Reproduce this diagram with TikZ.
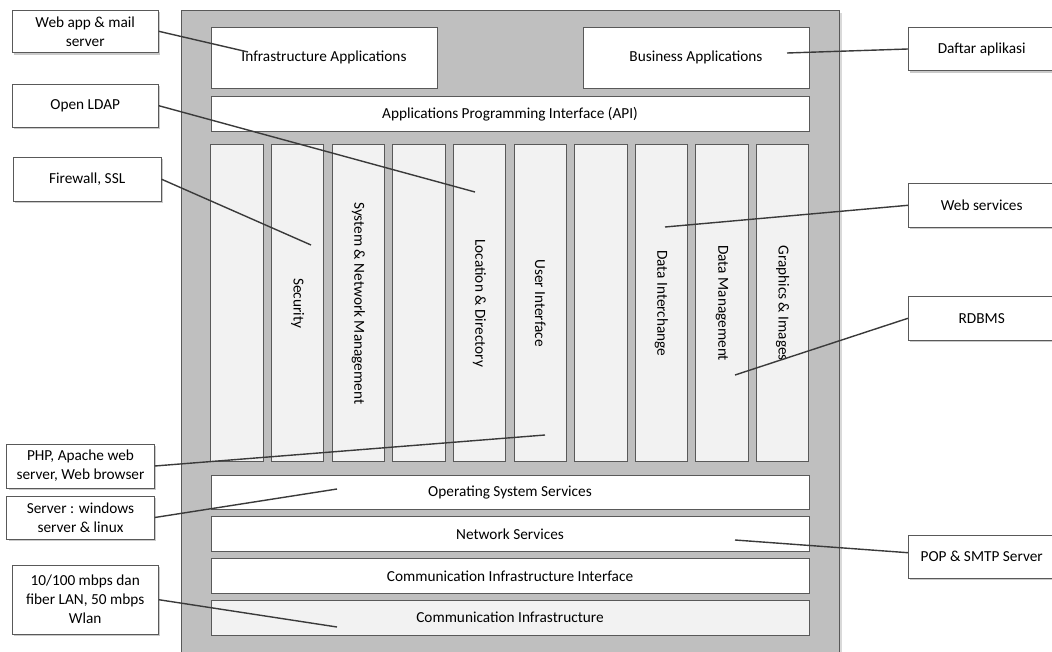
\documentclass[tikz,border=0pt]{standalone}
\usepackage{fontspec}
\setmainfont{Carlito}
\usetikzlibrary{shadows}
\definecolor{outergray}{HTML}{BFBFBF}
\definecolor{colfill}{HTML}{F2F2F2}
\definecolor{edgec}{HTML}{595959}
\definecolor{linkc}{HTML}{3A3A3A}
\tikzset{
  base/.style={draw=edgec, line width=0.9pt, inner sep=1pt, align=center,
    font=\fontsize{15.3}{19}\selectfont, text=black},
  layerbox/.style={base, fill=white},
  lightlayer/.style={base, fill=colfill},
  colbox/.style={base, fill=colfill, rotate=-90, minimum width=317pt, minimum height=52.3pt},
  note/.style={base, fill=white, drop shadow={shadow xshift=2pt, shadow yshift=-2pt, fill=black!35, opacity=0.6}},
  link/.style={draw=linkc, line width=1.4pt},
}
\begin{document}
\begin{tikzpicture}[x=1pt,y=-1pt]
\useasboundingbox (0,0) rectangle (1052,651);
% outer frame
\node[draw=edgec, fill=outergray, line width=1pt, minimum width=658pt, minimum height=680pt,
      inner sep=0pt, anchor=north west,
      drop shadow={shadow xshift=2pt, shadow yshift=-2pt, fill=black!25, opacity=0.6}] (frame) at (181,10) {};
% top layers
\node[layerbox, minimum width=226pt, minimum height=61pt] (infra) at (324,57.5) {Infrastructure Applications};
\node[layerbox, minimum width=226pt, minimum height=61pt] (biz) at (696,57.5) {Business Applications};
\node[layerbox, minimum width=598pt, minimum height=35pt] (api) at (510,114.2) {Applications Programming Interface (API)};
% columns
\node[colbox] (c1) at (237.0,303.2) {};
\node[colbox] (c2) at (297.6,303.2) {Security};
\node[colbox] (c3) at (358.3,303.2) {System \& Network Management};
\node[colbox] (c4) at (418.9,303.2) {};
\node[colbox] (c5) at (479.5,303.2) {Location \& Directory};
\node[colbox] (c6) at (540.2,303.2) {User Interface};
\node[colbox] (c7) at (600.8,303.2) {};
\node[colbox] (c8) at (661.4,303.2) {Data Interchange};
\node[colbox] (c9) at (722.0,303.2) {Data Management};
\node[colbox] (c10) at (782.7,303.2) {Graphics \& Images};
% bottom layers
\node[layerbox, minimum width=598pt, minimum height=34.3pt] (os) at (510,492.2) {Operating System Services};
\node[layerbox, minimum width=598pt, minimum height=34.3pt] (net) at (510,533.8) {Network Services};
\node[layerbox, minimum width=598pt, minimum height=35pt] (cii) at (510,575.8) {Communication Infrastructure Interface};
\node[lightlayer, minimum width=598pt, minimum height=34.7pt] (ci) at (510,617.7) {Communication Infrastructure};
% callouts left
\node[note, minimum width=146.3pt, minimum height=42.7pt] (webapp) at (85.2,31.3) {Web app \& mail\\server};
\node[note, minimum width=146.3pt, minimum height=43.3pt] (ldap) at (85.2,105.7) {Open LDAP};
\node[note, minimum width=147.7pt, minimum height=43.7pt] (fw) at (87.2,179.2) {Firewall, SSL};
\node[note, minimum width=147.6pt, minimum height=44pt] (php) at (80.5,466) {PHP, Apache web\\server, Web browser};
\node[note, minimum width=147.6pt, minimum height=43pt] (srv) at (80.5,517.5) {Server : windows\\server \& linux};
\node[note, minimum width=146.3pt, minimum height=68.7pt] (lan) at (85.2,599.7) {10/100 mbps dan\\fiber LAN, 50 mbps\\Wlan};
% callouts right
\node[note, minimum width=146.7pt, minimum height=43.4pt] (daftar) at (981.7,49) {Daftar aplikasi};
\node[note, minimum width=146.7pt, minimum height=44pt] (websvc) at (981.7,205.3) {Web services};
\node[note, minimum width=146.7pt, minimum height=43.3pt] (rdbms) at (981.7,318.3) {RDBMS};
\node[note, minimum width=146.7pt, minimum height=43.3pt] (pop) at (981.7,556.7) {POP \& SMTP Server};
% connector ends
\coordinate (eInfra) at (248,52);
\coordinate (eLoc) at (475,192);
\coordinate (eSec) at (311,245);
\coordinate (eUI) at (545,435);
\coordinate (eOS) at (337,489);
\coordinate (eCI) at (337,627);
\coordinate (eBiz) at (787,53);
\coordinate (eDI) at (665,227);
\coordinate (eDM) at (735,375);
\coordinate (eNet) at (735,540);
% connectors
\draw[link] (webapp.east) -- (eInfra);
\draw[link] (ldap.east) -- (eLoc);
\draw[link] (fw.east) -- (eSec);
\draw[link] (php.east) -- (eUI);
\draw[link] (srv.east) -- (eOS);
\draw[link] (lan.east) -- (eCI);
\draw[link] (daftar.west) -- (eBiz);
\draw[link] (websvc.west) -- (eDI);
\draw[link] (rdbms.west) -- (eDM);
\draw[link] ([yshift=4pt]pop.west) -- (eNet);
\end{tikzpicture}
\end{document}
